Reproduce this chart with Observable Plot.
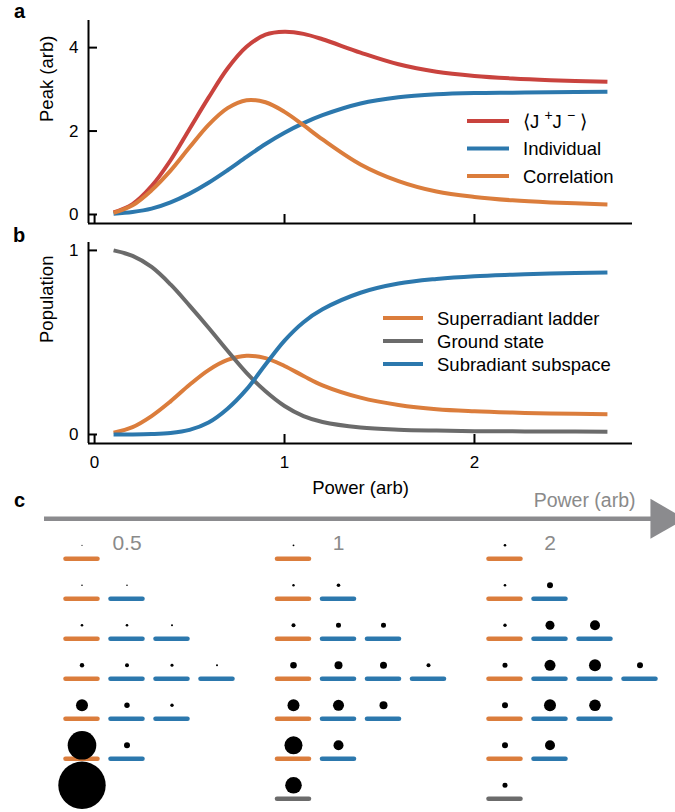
<!DOCTYPE html>
<html><head><meta charset="utf-8">
<script src="https://cdn.jsdelivr.net/npm/d3@7"></script>
<script src="https://cdn.jsdelivr.net/npm/@observablehq/plot@0.6"></script>
<style>
body{margin:0;background:#fff;}
#root{position:relative;width:675px;height:812px;overflow:hidden;font-family:"Liberation Sans",Arial,Helvetica,sans-serif;}
.panel{position:absolute;left:0;}
#overlay{position:absolute;left:0;top:0;pointer-events:none;}
</style></head>
<body>
<div id="root">
  <div id="pa" class="panel" style="top:0"></div>
  <div id="pb" class="panel" style="top:232px"></div>
  <div id="pc" class="panel" style="top:480px"></div>
  <svg id="overlay" width="675" height="812"></svg>
</div>
<script>
// ---------------- data ----------------
const power = [0.1,0.2,0.3,0.4,0.5,0.6,0.7,0.8,0.9,1.0,1.1,1.2,1.4,1.6,1.8,2.0,2.2,2.4,2.7];

// panel a: peak (arb)
const peakJJ          = [0.05,0.25,0.68,1.30,2.05,2.80,3.50,4.02,4.31,4.38,4.33,4.20,3.88,3.60,3.42,3.32,3.26,3.22,3.18];
const peakIndividual  = [0.02,0.06,0.14,0.29,0.50,0.76,1.06,1.38,1.69,1.96,2.19,2.38,2.66,2.81,2.88,2.91,2.92,2.93,2.94];
const peakCorrelation = [0.04,0.22,0.58,1.05,1.61,2.15,2.55,2.74,2.69,2.46,2.14,1.80,1.20,0.80,0.55,0.42,0.34,0.29,0.24];

// panel b: population
const popSuper  = [0.01,0.04,0.10,0.18,0.27,0.35,0.405,0.428,0.415,0.372,0.318,0.267,0.20,0.16,0.137,0.126,0.119,0.114,0.11];
const popGround = [1.0,0.97,0.91,0.815,0.70,0.58,0.455,0.335,0.235,0.155,0.10,0.068,0.038,0.026,0.021,0.018,0.017,0.016,0.015];
const popSub    = [0,0,0.002,0.008,0.025,0.065,0.14,0.245,0.38,0.51,0.61,0.68,0.77,0.82,0.845,0.86,0.868,0.874,0.88];

const aTicksY = [0,2,4];
const bTicksY = [0,1];
const xTicks = [0,1,2];

const aSeries = ["⟨J⁺J⁻⟩","Individual","Correlation"];
const bSeries = ["Superradiant ladder","Ground state","Subradiant subspace"];

// panel c: Dicke ladder, rows from top (most excited) to ground
const cPowers = ["0.5","1","2"];
const ladderRows = [
  ["super"],
  ["super","sub"],
  ["super","sub","sub"],
  ["super","sub","sub","sub"],
  ["super","sub","sub"],
  ["super","sub"],
  ["ground"]
];
// relative populations (dot area)
const cPop05 = [[0.0006],[0.0011,0.0011],[0.0030,0.0030,0.0018],[0.0086,0.0071,0.0040,0.0018],[0.0641,0.0130,0.0051],[0.3641,0.0160],[1.0]];
const cPop1  = [[0.0015],[0.0026,0.0058],[0.0071,0.0111,0.0111],[0.0194,0.0285,0.0218,0.0071],[0.0641,0.0539,0.0285],[0.1442,0.0445],[0.1226]];
const cPop2  = [[0.0030],[0.0030,0.0160],[0.0051,0.0361,0.0445],[0.0111,0.0539,0.0641,0.0160],[0.0160,0.0641,0.0599],[0.0160,0.0445],[0.0111]];
const cPopulations = [cPop05, cPop1, cPop2];

// ---------------- styles ----------------
const red = "#c9433e", blue = "#2c78ad", orange = "#db7d3c", gray = "#6b6b6b", arrowGray = "#8b8b8e", labelGray = "#8a8a8a";
const font = '"Liberation Sans", Arial, Helvetica, sans-serif';
const fmt = d => String(d);

function rows(values, name) { return power.map((p, i) => ({power: p, value: values[i], series: name})); }

// ---------------- panel a ----------------
const xDom = [-0.032, 2.832];
const aYDom = [-0.216, 4.65];
const aData = [...rows(peakJJ, aSeries[0]), ...rows(peakIndividual, aSeries[1]), ...rows(peakCorrelation, aSeries[2])];

const plotA = Plot.plot({
  width: 675, height: 232, marginLeft: 88, marginRight: 43, marginTop: 20, marginBottom: 9,
  style: {fontFamily: font, fontSize: "17px", background: "transparent", color: "black", overflow: "visible"},
  x: {domain: xDom},
  y: {domain: aYDom},
  color: {domain: aSeries, range: [red, blue, orange]},
  marks: [
    Plot.ruleX([xDom[0]], {strokeWidth: 2}),
    Plot.ruleY([aYDom[0]], {strokeWidth: 2}),
    Plot.axisY(aTicksY, {tickSize: -9, tickPadding: 19, strokeWidth: 2, fontSize: 17, tickFormat: fmt, label: null}),
    Plot.axisX(xTicks, {tickSize: -9, tickFormat: () => "", strokeWidth: 2, label: null}),
    Plot.text(["Peak (arb)"], {text: d => d, frameAnchor: "left", rotate: -90, dx: -41, fontSize: 18.5}),
    ...aSeries.map(s => Plot.line(aData.filter(d => d.series === s), {x: "power", y: "value", stroke: "series", strokeWidth: 4, curve: "catmull-rom", strokeLinecap: "butt"}))
  ]
});
document.getElementById("pa").append(plotA);

// ---------------- panel b ----------------
const bYDom = [-0.049, 1.043];
const bData = [...rows(popSuper, bSeries[0]), ...rows(popGround, bSeries[1]), ...rows(popSub, bSeries[2])];

const plotB = Plot.plot({
  width: 675, height: 268, marginLeft: 88, marginRight: 43, marginTop: 10, marginBottom: 57,
  style: {fontFamily: font, fontSize: "17px", background: "transparent", color: "black", overflow: "visible"},
  x: {domain: xDom},
  y: {domain: bYDom},
  color: {domain: bSeries, range: [orange, gray, blue]},
  marks: [
    Plot.ruleX([xDom[0]], {strokeWidth: 2}),
    Plot.ruleY([bYDom[0]], {strokeWidth: 2}),
    Plot.axisY(bTicksY, {tickSize: -9, tickPadding: 19, strokeWidth: 2, fontSize: 17, tickFormat: fmt, label: null}),
    Plot.axisX(xTicks, {tickSize: -9, tickPadding: 21, strokeWidth: 2, fontSize: 17, tickFormat: fmt, label: null}),
    Plot.text(["Population"], {text: d => d, frameAnchor: "left", rotate: -90, dx: -41, fontSize: 18.5}),
    Plot.text(["Power (arb)"], {text: d => d, frameAnchor: "bottom", dy: 45, lineAnchor: "middle", fontSize: 18.5}),
    ...bSeries.map(s => Plot.line(bData.filter(d => d.series === s), {x: "power", y: "value", stroke: "series", strokeWidth: 4, curve: "catmull-rom", strokeLinecap: "butt"}))
  ]
});
document.getElementById("pb").append(plotB);

// ---------------- panel c ----------------
const groupGap = 4.7;      // slots between ladder groups
const barHalf = 0.356;     // half bar length in slots
const cStates = [];
cPowers.forEach((p, g) => ladderRows.forEach((row, r) => row.forEach((type, k) => {
  cStates.push({power: p, row: r, slot: g * groupGap + k, type, pop: cPopulations[g][r][k]});
})));

const plotC = Plot.plot({
  width: 675, height: 332, marginLeft: 0, marginRight: 0, marginTop: 0, marginBottom: 0,
  style: {fontFamily: font, background: "transparent", color: "black", overflow: "visible"},
  x: {domain: [-1.8111, 13.1889], axis: null},
  y: {domain: [-1.9575, 6.3425], reverse: true, axis: null},
  r: {type: "sqrt", domain: [0, 1], range: [0, 23.7]},
  color: {domain: ["super","sub","ground"], range: [orange, blue, gray]},
  marks: [
    Plot.ruleY([-1], {insetLeft: 44, insetRight: 22, stroke: arrowGray, strokeWidth: 4.5}),
    Plot.dot([-1], {y: d => d, frameAnchor: "right", symbol: "triangle", r: 14.85, rotate: 90, fill: arrowGray, stroke: null, dx: -13.5}),
    Plot.text(["Power (arb)"], {text: d => d, frameAnchor: "top-right", dx: -40, dy: 20, textAnchor: "end", lineAnchor: "middle", fill: labelGray, fontSize: 19.5}),
    Plot.text(cPowers, {x: (d, i) => i * groupGap + 1, y: () => 0, dy: -16, text: d => d, fill: labelGray, fontSize: 21, lineAnchor: "middle"}),
    Plot.ruleY(cStates, {y: "row", x1: d => d.slot - barHalf, x2: d => d.slot + barHalf, stroke: "type", strokeWidth: 4.5, strokeLinecap: "round"}),
    Plot.dot(cStates, {x: "slot", y: "row", r: "pop", fill: "black", stroke: null, dy: -13.5})
  ]
});
document.getElementById("pc").append(plotC);

// ---------------- overlay: panel letters and legends ----------------
const ov = d3.select("#overlay").style("font-family", font);
const letters = [{t: "a", x: 14, y: 18}, {t: "b", x: 13, y: 242}, {t: "c", x: 14, y: 507}];
ov.selectAll("text.letter").data(letters).join("text").attr("class", "letter")
  .attr("x", d => d.x).attr("y", d => d.y).text(d => d.t)
  .attr("font-weight", "bold").attr("font-size", 20);

function legend(items, colors, x0, x1, xt, y0, step) {
  const g = ov.append("g");
  items.forEach((label, i) => {
    const y = y0 + i * step;
    g.append("line").attr("x1", x0).attr("x2", x1).attr("y1", y).attr("y2", y)
      .attr("stroke", colors[i]).attr("stroke-width", 4);
    const t = g.append("text").attr("x", xt).attr("y", y).attr("dominant-baseline", "central")
      .attr("font-size", 18.5).attr("fill", "black");
    if (label === aSeries[0]) {
      t.append("tspan").text("⟨J ");
      t.append("tspan").attr("dy", -6).attr("font-size", 14).text("+");
      t.append("tspan").attr("dy", 6).text("J ");
      t.append("tspan").attr("dy", -6).attr("font-size", 14).text("−");
      t.append("tspan").attr("dy", 6).text(" ⟩");
    } else t.text(label);
  });
}
legend(aSeries, [red, blue, orange], 467, 509, 523, 121, 27.5);
legend(bSeries, [orange, gray, blue], 383, 423, 437, 318, 23);
</script>
</body></html>
